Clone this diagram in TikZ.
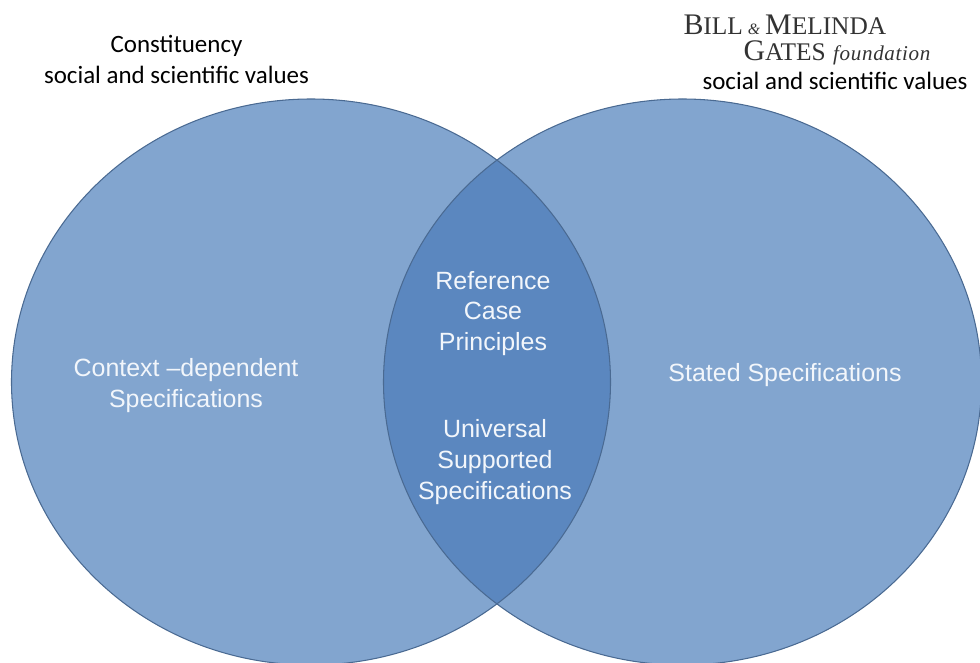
\documentclass[tikz,border=0pt]{standalone}
\usepackage{fontspec}
\setmainfont{Liberation Sans}
\newfontfamily\calfont{Carlito}
\newfontfamily\logofont{Liberation Serif}
\definecolor{lobe}{HTML}{82A5CF}
\definecolor{overlap}{HTML}{5B87BF}
\definecolor{rim}{HTML}{4A6A92}
\definecolor{palewhite}{HTML}{F2F6FB}
\tikzset{
  whitetext/.style={text=palewhite,align=center,font=\fontsize{14.2}{17.6}\selectfont},
  toptext/.style={text=black,align=center,font=\calfont\fontsize{14.2}{17.6}\selectfont},
  logotext/.style={anchor=west,inner sep=0pt,align=left,text=black!80,font=\logofont\fontsize{17}{14.7}\selectfont}
}
\begin{document}
\begin{tikzpicture}[line width=0.6pt]
		\clip (0,0) rectangle (19.6,13.24);
		\fill[lobe] (6.22,5.60) ellipse (5.99 and 5.66);
		\fill[lobe] (13.65,5.60) ellipse (5.98 and 5.66);
		\begin{scope}
		\clip (6.22,5.60) ellipse (5.99 and 5.66);
		\fill[overlap] (13.65,5.60) ellipse (5.98 and 5.66);
		\end{scope}
		\draw[rim] (6.22,5.60) ellipse (5.99 and 5.66);
		\draw[rim] (13.65,5.60) ellipse (5.98 and 5.66);
		\node[whitetext] (context) at (3.72,5.52) {Context --dependent\\Specifications};
		\node[whitetext] (stated) at (15.70,5.74) {Stated Specifications};
		\node[whitetext] (reference) at (9.86,6.97) {Reference\\Case\\Principles};
		\node[whitetext] (universal) at (9.90,4.00) {Universal\\Supported\\Specifications};
		\node[toptext] (constituency) at (3.53,12.05) {Constituency\\social and scientific values};
		\node[toptext] (values) at (16.70,11.62) {social and scientific values};
		\node[logotext] (logo) at (13.66,12.44) {B\scalebox{0.85}{ILL}\,{\itshape\small\&}\,M\scalebox{0.85}{ELINDA}\\\hspace*{1.2cm}G\scalebox{0.85}{ATES} {\itshape\addfontfeature{LetterSpace=3}\fontsize{12}{12}\selectfont foundation}};
		\end{tikzpicture}
\end{document}
